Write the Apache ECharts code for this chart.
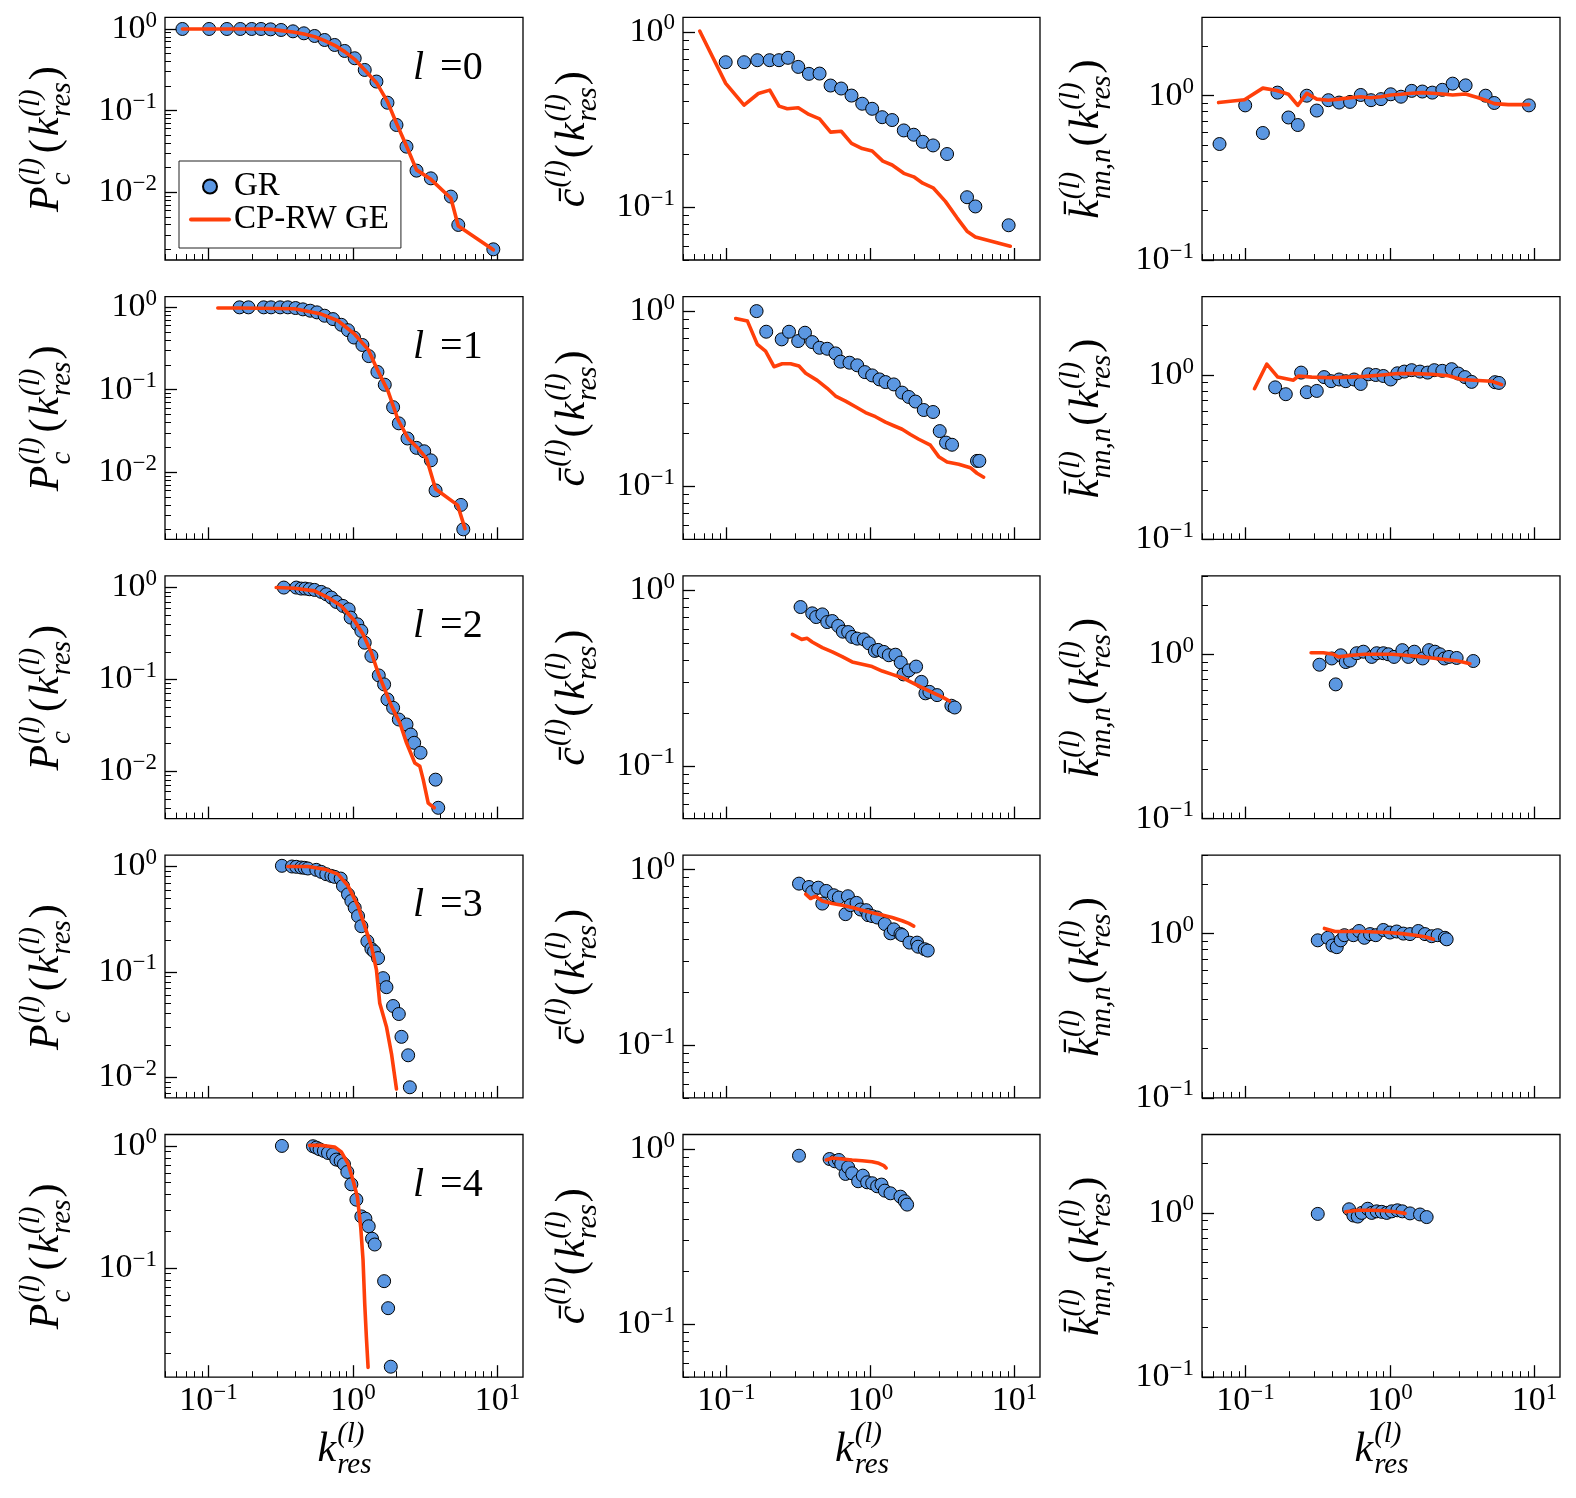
<!DOCTYPE html>
<html><head><meta charset="utf-8">
<script src="https://cdn.jsdelivr.net/npm/echarts@6/dist/echarts.min.js"></script>
<style>html,body{margin:0;padding:0;background:#fff}#c{width:1576px;height:1498px}</style>
</head><body><div id="c"></div>
<script>
// ---------------- data ----------------
const X_MIN = 0.05, X_MAX = 15;
const P_YMIN = [0.00148, 0.00153, 0.00305, 0.00634, 0.0128];
const P_YMAX = [1.39, 1.35, 1.34, 1.28, 1.24];
const C_YMIN = 0.05, C_YMAX = 1.21;
const K_YMIN = 0.1, K_YMAX = 3;
const MAJOR_TICKS = [0.001, 0.01, 0.1, 1, 10];
const MINOR_MULT = [2, 3, 4, 5, 6, 7, 8, 9];
const LEVELS = ['0', '1', '2', '3', '4'];
const NAME_GR = 'GR', NAME_CP = 'CP-RW GE';

const P0_GR = [[0.066,1],[0.101,1],[0.134,1],[0.166,1],[0.199,1],[0.231,1],[0.269,0.99],[0.318,0.972],[0.384,0.936],[0.457,0.885],[0.542,0.821],[0.636,0.733],[0.746,0.637],[0.875,0.538],[1.027,0.438],[1.205,0.315],[1.452,0.227],[1.731,0.125],[1.998,0.0667],[2.344,0.0362],[2.75,0.0184],[3.457,0.0148],[4.756,0.00885],[5.35,0.00398],[9.35,0.002]];
const P0_CP = [[0.066,1],[0.101,1],[0.134,1],[0.166,1],[0.199,1],[0.231,1],[0.269,0.99],[0.318,0.954],[0.384,0.919],[0.457,0.869],[0.542,0.806],[0.636,0.72],[0.746,0.631],[0.875,0.528],[1.027,0.425],[1.205,0.315],[1.452,0.22],[1.731,0.129],[1.998,0.07],[2.344,0.0369],[2.75,0.0188],[3.457,0.0144],[4.756,0.00845],[5.35,0.00387],[9.35,0.00197]];
const P1_GR = [[0.164,1],[0.189,1],[0.241,1],[0.271,1],[0.313,1],[0.354,1],[0.4,0.981],[0.45,0.945],[0.506,0.91],[0.563,0.869],[0.636,0.791],[0.727,0.72],[0.83,0.614],[0.923,0.528],[1.016,0.43],[1.161,0.349],[1.284,0.256],[1.475,0.1645],[1.658,0.115],[1.894,0.0614],[2.074,0.0391],[2.382,0.0256],[2.75,0.0197],[3.108,0.0179],[3.458,0.0139],[3.725,0.006],[5.583,0.004],[5.794,0.00202]];
const P1_CP = [[0.116,0.98],[0.164,0.98],[0.394,0.963],[0.603,0.829],[0.787,0.687],[1.027,0.472],[1.271,0.309],[1.49,0.168],[1.749,0.0954],[2.052,0.0429],[2.407,0.0256],[2.824,0.0193],[3.227,0.0146],[3.725,0.00625],[5.293,0.00398],[5.953,0.00206]];
const P2_GR = [[0.332,1.0],[0.405,1.0],[0.438,0.975],[0.467,0.975],[0.5,0.959],[0.542,0.943],[0.603,0.897],[0.653,0.846],[0.708,0.778],[0.766,0.698],[0.852,0.631],[0.933,0.58],[0.963,0.471],[1.072,0.398],[1.142,0.337],[1.205,0.251],[1.34,0.18],[1.507,0.1105],[1.641,0.0882],[1.731,0.0605],[1.894,0.0491],[2.074,0.0366],[2.344,0.0323],[2.512,0.0251],[2.649,0.0204],[2.931,0.0159],[3.725,0.0081],[3.887,0.004]];
const P2_CP = [[0.294,1.0],[0.394,0.983],[0.542,0.92],[0.671,0.778],[0.83,0.631],[1.027,0.433],[1.173,0.31],[1.34,0.195],[1.49,0.118],[1.658,0.0778],[1.845,0.0512],[2.107,0.0337],[2.344,0.0204],[2.677,0.0123],[2.9,0.0113],[3.06,0.0081],[3.313,0.0045],[3.646,0.004]];
const P3_GR = [[0.322,1.015],[0.378,1.0],[0.405,0.993],[0.438,0.978],[0.462,0.971],[0.487,0.957],[0.557,0.929],[0.603,0.889],[0.653,0.845],[0.708,0.814],[0.746,0.797],[0.821,0.768],[0.852,0.654],[0.923,0.544],[0.974,0.47],[1.027,0.406],[1.083,0.338],[1.142,0.271],[1.257,0.195],[1.34,0.165],[1.398,0.156],[1.49,0.135],[1.615,0.087],[1.703,0.0714],[1.894,0.0473],[2.074,0.0397],[2.164,0.0241],[2.407,0.0161],[2.472,0.008]];
const P3_CP = [[0.354,1.0],[0.487,1.0],[0.636,0.943],[0.787,0.845],[0.923,0.654],[1.083,0.421],[1.205,0.271],[1.34,0.175],[1.452,0.1045],[1.531,0.0502],[1.703,0.0301],[1.845,0.0167],[1.998,0.0077]];
const P4_GR = [[0.322,1.0],[0.528,0.994],[0.557,0.969],[0.587,0.939],[0.629,0.91],[0.671,0.876],[0.727,0.854],[0.766,0.773],[0.821,0.753],[0.866,0.708],[0.913,0.612],[0.974,0.485],[1.055,0.363],[1.142,0.265],[1.218,0.254],[1.284,0.22],[1.354,0.174],[1.413,0.156],[1.641,0.0782],[1.749,0.047],[1.825,0.0156]];
const P4_CP = [[0.5,1.01],[0.603,1.01],[0.746,0.981],[0.83,0.893],[0.923,0.717],[1.0,0.523],[1.072,0.382],[1.13,0.217],[1.173,0.116],[1.205,0.051],[1.237,0.0272],[1.271,0.0154]];

const C0_GR = [[0.0989,0.671],[0.1326,0.671],[0.164,0.689],[0.1996,0.689],[0.2317,0.689],[0.2675,0.711],[0.3153,0.631],[0.3738,0.576],[0.4432,0.578],[0.5283,0.494],[0.626,0.475],[0.7385,0.433],[0.876,0.389],[1.027,0.364],[1.205,0.326],[1.413,0.314],[1.702,0.274],[1.996,0.259],[2.305,0.236],[2.718,0.225],[3.398,0.201],[4.675,0.114],[5.34,0.101],[9.087,0.0789]];
const C0_CP = [[0.0653,1.01],[0.0989,0.508],[0.1326,0.382],[0.1667,0.445],[0.2001,0.465],[0.2317,0.377],[0.2646,0.364],[0.3153,0.369],[0.3738,0.338],[0.4432,0.319],[0.5283,0.268],[0.626,0.271],[0.7385,0.231],[0.876,0.216],[1.027,0.209],[1.218,0.183],[1.413,0.174],[1.702,0.156],[1.996,0.149],[2.305,0.137],[2.718,0.129],[3.308,0.108],[3.985,0.087],[4.675,0.073],[5.34,0.0677],[9.33,0.0599]];
const C1_GR = [[0.162,1.0],[0.189,0.763],[0.242,0.69],[0.272,0.763],[0.315,0.675],[0.351,0.753],[0.394,0.666],[0.443,0.618],[0.501,0.61],[0.572,0.574],[0.62,0.515],[0.715,0.508],[0.809,0.491],[0.914,0.449],[1.027,0.43],[1.154,0.408],[1.27,0.394],[1.451,0.382],[1.657,0.343],[1.844,0.324],[2.05,0.305],[2.342,0.273],[2.718,0.266],[3.022,0.207],[3.344,0.178],[3.68,0.173],[5.483,0.14],[5.691,0.14]];
const C1_CP = [[0.116,0.908],[0.14,0.877],[0.164,0.646],[0.187,0.592],[0.214,0.482],[0.244,0.501],[0.279,0.501],[0.319,0.486],[0.355,0.442],[0.427,0.403],[0.501,0.363],[0.572,0.328],[0.671,0.307],[0.787,0.285],[0.923,0.264],[1.083,0.25],[1.27,0.233],[1.451,0.222],[1.657,0.212],[1.893,0.198],[2.162,0.186],[2.604,0.172],[2.974,0.148],[3.398,0.138],[4.093,0.134],[4.93,0.128],[5.483,0.119],[6.1,0.113]];
const C2_GR = [[0.327,0.804],[0.394,0.74],[0.42,0.705],[0.463,0.73],[0.501,0.66],[0.543,0.669],[0.597,0.627],[0.643,0.582],[0.7,0.579],[0.746,0.543],[0.809,0.531],[0.899,0.526],[0.974,0.499],[1.072,0.452],[1.13,0.458],[1.237,0.446],[1.34,0.427],[1.49,0.43],[1.622,0.388],[1.693,0.332],[1.844,0.35],[2.072,0.368],[2.256,0.301],[2.405,0.259],[2.563,0.264],[2.897,0.253],[3.641,0.22],[3.84,0.215]];
const C2_CP = [[0.287,0.562],[0.333,0.526],[0.364,0.533],[0.394,0.508],[0.463,0.472],[0.543,0.446],[0.636,0.419],[0.746,0.391],[0.876,0.379],[1.027,0.368],[1.205,0.347],[1.413,0.332],[1.657,0.318],[1.944,0.298],[2.28,0.279],[2.675,0.262],[3.137,0.247],[3.526,0.234]];
const C3_GR = [[0.319,0.833],[0.374,0.797],[0.394,0.747],[0.434,0.79],[0.463,0.641],[0.493,0.757],[0.557,0.715],[0.603,0.694],[0.671,0.558],[0.697,0.706],[0.727,0.628],[0.8,0.647],[0.853,0.593],[0.933,0.588],[0.963,0.551],[1.027,0.544],[1.112,0.534],[1.257,0.49],[1.376,0.434],[1.451,0.457],[1.614,0.43],[1.657,0.424],[1.863,0.384],[2.105,0.384],[2.139,0.364],[2.379,0.352],[2.496,0.346]];
const C3_CP = [[0.355,0.725],[0.384,0.685],[0.416,0.706],[0.463,0.664],[0.543,0.641],[0.636,0.628],[0.746,0.609],[0.876,0.588],[1.027,0.568],[1.205,0.551],[1.413,0.534],[1.657,0.512],[1.844,0.494],[1.996,0.477]];
const C4_GR = [[0.319,0.916],[0.52,0.877],[0.566,0.851],[0.603,0.866],[0.626,0.822],[0.671,0.721],[0.7,0.786],[0.746,0.727],[0.821,0.655],[0.885,0.705],[0.948,0.646],[1.027,0.638],[1.112,0.613],[1.192,0.627],[1.257,0.579],[1.376,0.559],[1.614,0.535],[1.729,0.504],[1.795,0.482]];
const C4_CP = [[0.493,0.866],[0.543,0.889],[0.636,0.877],[0.746,0.866],[0.876,0.858],[1.027,0.847],[1.142,0.829],[1.237,0.804],[1.284,0.78]];

const K0_GR = [[0.0661,0.508],[0.0995,0.873],[0.1318,0.593],[0.1664,1.044],[0.1982,0.737],[0.23,0.663],[0.2655,1.0],[0.3112,0.812],[0.3748,0.939],[0.4442,0.908],[0.5291,0.917],[0.6269,1.01],[0.7388,0.939],[0.8666,0.953],[1.011,1.02],[1.191,0.986],[1.412,1.07],[1.673,1.06],[1.961,1.044],[2.301,1.086],[2.712,1.184],[3.334,1.156],[4.585,1.0],[5.262,0.903],[9.137,0.873]];
const K0_CP = [[0.0651,0.908],[0.0984,0.944],[0.1318,1.112],[0.1646,1.075],[0.1982,1.02],[0.23,0.873],[0.2655,1.034],[0.3112,0.953],[0.3748,0.939],[0.4442,0.953],[0.5291,0.971],[0.6269,0.986],[0.7388,0.971],[0.8666,0.986],[1.011,1.01],[1.191,1.02],[1.412,1.034],[1.673,1.044],[1.961,1.034],[2.301,1.024],[2.712,1.01],[3.334,1.024],[4.079,0.971],[4.585,0.939],[5.262,0.895],[6.577,0.882],[9.137,0.882]];
const K1_GR = [[0.1604,0.841],[0.19,0.764],[0.2425,1.034],[0.2655,0.786],[0.3112,0.8],[0.3498,0.971],[0.3911,0.917],[0.4442,0.939],[0.4937,0.917],[0.5638,0.939],[0.6269,0.882],[0.7084,1.01],[0.7963,1.0],[0.8994,0.986],[1.011,0.939],[1.124,1.024],[1.256,1.049],[1.412,1.07],[1.612,1.049],[1.821,1.034],[2.025,1.07],[2.301,1.06],[2.668,1.085],[2.968,1.02],[3.3,0.971],[3.668,0.908],[5.319,0.904],[5.668,0.895]];
const K1_CP = [[0.1154,0.825],[0.1404,1.166],[0.1673,0.971],[0.2147,0.93],[0.2325,0.986],[0.2874,0.971],[0.3953,0.962],[0.5152,0.971],[0.6716,0.981],[0.8758,1.0],[1.142,1.02],[1.489,1.02],[1.941,1.01],[2.53,0.99],[3.129,0.939],[4.079,0.926],[5.045,0.917],[5.914,0.874]];
const K2_GR = [[0.3248,0.864],[0.3953,0.943],[0.421,0.656],[0.456,0.986],[0.4937,0.897],[0.5291,0.916],[0.5882,1.015],[0.6542,1.037],[0.7468,0.964],[0.8088,1.015],[0.8994,1.015],[0.9738,1.0],[1.066,0.964],[1.217,1.06],[1.339,0.964],[1.473,1.037],[1.682,0.943],[1.861,1.06],[2.047,1.037],[2.216,1.0],[2.375,0.943],[2.558,0.964],[2.89,0.95],[3.767,0.91]];
const K2_CP = [[0.2843,1.022],[0.346,1.022],[0.4057,1.0],[0.4393,0.964],[0.5433,0.986],[0.6716,1.0],[0.8306,1.0],[1.027,1.0],[1.27,0.986],[1.57,0.971],[1.941,0.95],[2.4,0.93],[2.968,0.91],[3.573,0.877]];
const K3_GR = [[0.3162,0.91],[0.3709,0.943],[0.3995,0.846],[0.4279,0.827],[0.456,0.91],[0.4834,0.978],[0.5579,0.978],[0.6103,1.037],[0.6645,0.943],[0.7275,0.993],[0.7963,0.978],[0.8994,1.052],[1.0,1.015],[1.112,1.03],[1.236,1.0],[1.375,0.993],[1.57,1.037],[1.746,0.993],[1.941,0.964],[2.136,0.978],[2.4,0.943],[2.465,0.923]];
const K3_CP = [[0.3516,1.075],[0.4168,1.03],[0.5152,1.03],[0.6368,1.03],[0.7876,1.022],[0.9738,1.015],[1.204,1.0],[1.489,0.978],[1.746,0.957],[1.993,0.923]];
const K4_GR = [[0.3162,0.986],[0.5207,1.052],[0.5579,0.964],[0.5978,0.95],[0.6368,1.0],[0.7008,1.06],[0.7468,1.0],[0.8088,1.022],[0.8758,1.015],[0.9484,1.0],[1.027,1.022],[1.124,1.037],[1.217,1.022],[1.375,0.993],[1.612,0.978],[1.792,0.943]];
const K4_CP = [[0.4937,1.015],[0.6041,1.037],[0.7468,1.037],[0.9235,1.03],[1.083,1.015],[1.27,0.993]];

const PANELS = [
  [[P0_GR, P0_CP], [C0_GR, C0_CP], [K0_GR, K0_CP]],
  [[P1_GR, P1_CP], [C1_GR, C1_CP], [K1_GR, K1_CP]],
  [[P2_GR, P2_CP], [C2_GR, C2_CP], [K2_GR, K2_CP]],
  [[P3_GR, P3_CP], [C3_GR, C3_CP], [K3_GR, K3_CP]],
  [[P4_GR, P4_CP], [C4_GR, C4_CP], [K4_GR, K4_CP]]
];

// ---------------- layout & style ----------------
const FONT = 'Liberation Serif';
const BLUE = '#5B97E2', RED = '#FF3F0A';
const COL_LEFT = [165, 683, 1202], COL_W = [358, 357, 358];
const ROW_TOP0 = 17.3, ROW_STEP = 279.3, ROW_H = 242.7;
const Y_NAME_GAP = [88, 80, 85];

const MINOR_TICKS = [];
MAJOR_TICKS.forEach(function (d) { MINOR_MULT.forEach(function (m) { MINOR_TICKS.push(+(m * d).toPrecision(3)); }); });
function inRange(arr, lo, hi) { return arr.filter(function (v) { return v >= lo / 1.0001 && v <= hi * 1.0001; }); }
function powLabel(v) {
  const e = Math.round(Math.log10(v));
  return '{b|10}{s|' + (e < 0 ? '\u2212' + (-e) : String(e)) + '}';
}
const TICK_RICH = {
  b: { fontFamily: FONT, fontSize: 34, lineHeight: 40, color: '#000' },
  s: { fontFamily: FONT, fontSize: 23, lineHeight: 22, verticalAlign: 'top', color: '#000' }
};
function st(o) { return Object.assign({ fontFamily: FONT, color: '#000', align: 'left' }, o); }
const NAME_RICH = {
  m: st({ fontStyle: 'italic', fontSize: 42, lineHeight: 60, padding: [0, 1] }),
  u: st({ fontSize: 42, lineHeight: 60, padding: [0, 2] }),
  p: st({ fontStyle: 'italic', fontSize: 29, lineHeight: 22, verticalAlign: 'top' }),
  pz: st({ fontStyle: 'italic', fontSize: 29, lineHeight: 22, verticalAlign: 'top', width: 0.01 }),
  b: st({ fontStyle: 'italic', fontSize: 29, lineHeight: 28, verticalAlign: 'bottom' }),
  bw: st({ fontStyle: 'italic', fontSize: 29, lineHeight: 28, verticalAlign: 'bottom', width: 30 })
};
const Y_NAMES = [
  '{m|P}{pz|(l)}{bw|c}{u|(}{m|k}{pz|(l)}{b|res}{u|)}',
  '{m|c\u0304}{p|(l)}{u|(}{m|k}{pz|(l)}{b|res}{u|)}',
  '{m|k\u0304}{pz|(l)}{b|nn,n}{u|(}{m|k}{pz|(l)}{b|res}{u|)}'
];
const X_NAME = '{m|k}{pz|(l)}{b|res}';

const grids = [], xAxes = [], yAxes = [], series = [], graphics = [];
for (let r = 0; r < 5; r++) {
  for (let c = 0; c < 3; c++) {
    const g = r * 3 + c;
    grids.push({
      left: COL_LEFT[c], top: ROW_TOP0 + r * ROW_STEP, width: COL_W[c], height: ROW_H,
      show: true, borderColor: '#000', borderWidth: 1.3, backgroundColor: 'transparent',
      containLabel: false, outerBoundsMode: 'none'
    });
    const ymin = c === 0 ? P_YMIN[r] : (c === 1 ? C_YMIN : K_YMIN);
    const ymax = c === 0 ? P_YMAX[r] : (c === 1 ? C_YMAX : K_YMAX);
    const xMaj = inRange(MAJOR_TICKS, X_MIN, X_MAX), xMin = inRange(MINOR_TICKS, X_MIN, X_MAX);
    const yMaj = inRange(MAJOR_TICKS, ymin, ymax), yMin = inRange(MINOR_TICKS, ymin, ymax);
    xAxes.push({
      type: 'log', logBase: 10, gridIndex: g, min: X_MIN, max: X_MAX, position: 'bottom',
      axisLine: { show: false }, splitLine: { show: false },
      axisTick: { show: true, inside: true, length: 12, lineStyle: { color: '#000', width: 1.3 }, customValues: xMaj },
      axisLabel: { show: r === 4, customValues: xMaj, formatter: powLabel, margin: 4, rich: TICK_RICH },
      name: r === 4 ? X_NAME : '', nameLocation: 'middle', nameGap: 43, nameTextStyle: { rich: NAME_RICH }
    });
    xAxes.push({
      type: 'log', logBase: 10, gridIndex: g, min: X_MIN, max: X_MAX, position: 'bottom',
      axisLine: { show: false }, splitLine: { show: false }, axisLabel: { show: false },
      axisTick: { show: true, inside: true, length: 6, lineStyle: { color: '#000', width: 1 }, customValues: xMin }
    });
    yAxes.push({
      type: 'log', logBase: 10, gridIndex: g, min: ymin, max: ymax, position: 'left',
      axisLine: { show: false }, splitLine: { show: false },
      axisTick: { show: true, inside: true, length: 12, lineStyle: { color: '#000', width: 1.3 }, customValues: yMaj },
      axisLabel: { show: true, customValues: yMaj, formatter: powLabel, margin: 8, rich: TICK_RICH },
      name: Y_NAMES[c], nameLocation: 'middle', nameRotate: 90, nameGap: Y_NAME_GAP[c], nameTextStyle: { rich: NAME_RICH }
    });
    yAxes.push({
      type: 'log', logBase: 10, gridIndex: g, min: ymin, max: ymax, position: 'left',
      axisLine: { show: false }, splitLine: { show: false }, axisLabel: { show: false },
      axisTick: { show: true, inside: true, length: 6, lineStyle: { color: '#000', width: 1 }, customValues: yMin }
    });
    const pair = PANELS[r][c];
    series.push({
      type: 'scatter', name: NAME_GR, xAxisIndex: 2 * g, yAxisIndex: 2 * g, data: pair[0],
      symbol: 'circle', symbolSize: 13, itemStyle: { color: BLUE, borderColor: '#000', borderWidth: 1, opacity: 1 },
      z: 2, silent: true
    });
    series.push({
      type: 'line', name: NAME_CP, xAxisIndex: 2 * g, yAxisIndex: 2 * g, data: pair[1],
      symbol: 'none', showSymbol: false, lineStyle: { color: RED, width: 3.6, cap: 'round', join: 'round' },
      itemStyle: { color: RED }, z: 3, silent: true
    });
  }
  graphics.push({
    type: 'text', left: 413, top: 48 + r * ROW_STEP, z: 20,
    style: {
      text: '{i|l}{sp| }{n|=' + LEVELS[r] + '}', fill: '#000',
      rich: {
        i: { fontFamily: FONT, fontStyle: 'italic', fontSize: 40, lineHeight: 44, color: '#000' },
        sp: { fontFamily: FONT, fontSize: 40, lineHeight: 44, width: 16 },
        n: { fontFamily: FONT, fontSize: 40, lineHeight: 44, color: '#000' }
      }
    }
  });
}

const chart = echarts.init(document.getElementById('c'), null, { renderer: 'canvas' });
chart.setOption({
  animation: false,
  backgroundColor: '#fff',
  grid: grids,
  xAxis: xAxes,
  yAxis: yAxes,
  series: series,
  graphic: graphics,
  legend: {
    show: true, left: 179, top: 161, orient: 'vertical', z: 20,
    data: [
      { name: NAME_GR, icon: 'circle' },
      { name: NAME_CP, itemStyle: { opacity: 0 }, lineStyle: { width: 4, color: RED } }
    ],
    itemWidth: 38, itemHeight: 14, itemGap: 0,
    lineStyle: { width: 4 },
    padding: [9, 12, 12, 10], borderColor: '#222', borderWidth: 1, borderRadius: 0, backgroundColor: '#fff',
    selectedMode: false,
    textStyle: { fontFamily: FONT, fontSize: 33, color: '#000', lineHeight: 26 }
  }
});
</script>
</body></html>
